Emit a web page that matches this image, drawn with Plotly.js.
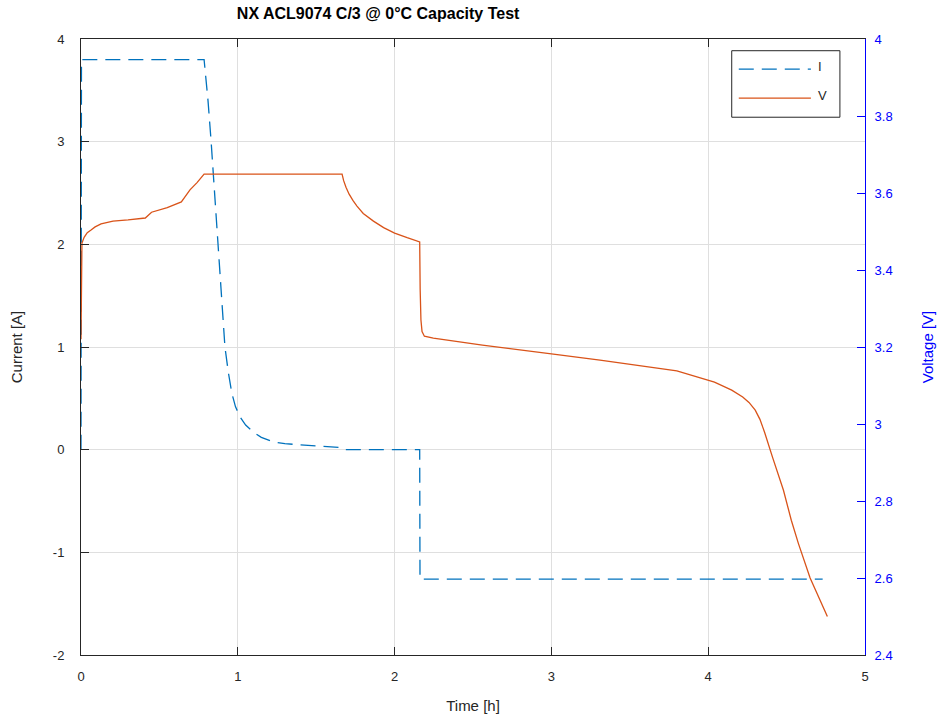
<!DOCTYPE html>
<html>
<head>
<meta charset="utf-8">
<script src="https://cdn.plot.ly/plotly-3.0.1.min.js"></script>
<style>html,body{margin:0;padding:0;background:#fff;}#chart{width:938px;height:719px;}</style>
</head>
<body>
<div id="chart"></div>
<script>
// Current series (time in hours, current in A)
var timeI = [0, 0.003, 0.785, 0.81, 0.83, 0.85, 0.867, 0.89, 0.918, 0.94, 0.962, 0.985, 1.014, 1.05, 1.10, 1.15, 1.225, 1.30, 1.40, 1.52, 1.66, 1.68, 2.16, 2.162, 4.73];
var currentI = [0, 3.8, 3.8, 3.4, 3.0, 2.55, 2.14, 1.55, 1.0, 0.75, 0.55, 0.42, 0.32, 0.24, 0.17, 0.12, 0.076, 0.058, 0.047, 0.035, 0.02, 0.0, 0.0, -1.26, -1.26];

// Voltage series (time in hours, voltage in V)
var timeV = [0, 0.006, 0.02, 0.04, 0.064, 0.09, 0.128, 0.16, 0.204, 0.30, 0.41, 0.45, 0.55, 0.64, 0.67, 0.695, 0.74, 0.785, 1.665, 1.675, 1.69, 1.71, 1.735, 1.76, 1.80, 1.865, 1.93, 2.00, 2.08, 2.16, 2.163, 2.168, 2.175, 2.19, 2.247, 2.56, 3.00, 3.31, 3.80, 4.04, 4.15, 4.22, 4.26, 4.30, 4.33, 4.36, 4.41, 4.48, 4.53, 4.575, 4.65, 4.76];
var voltageV = [3.22, 3.47, 3.485, 3.497, 3.504, 3.512, 3.52, 3.523, 3.527, 3.53, 3.535, 3.55, 3.562, 3.577, 3.593, 3.608, 3.627, 3.649, 3.649, 3.632, 3.615, 3.597, 3.580, 3.566, 3.547, 3.527, 3.510, 3.496, 3.484, 3.473, 3.35, 3.27, 3.240, 3.228, 3.223, 3.205, 3.182, 3.166, 3.138, 3.109, 3.088, 3.07, 3.056, 3.036, 3.012, 2.978, 2.914, 2.828, 2.75, 2.69, 2.60, 2.50];

var xTicks = [0, 1, 2, 3, 4, 5];
var yLeftTicks = [-2, -1, 0, 1, 2, 3, 4];
var yLeftLabels = ['-2', '-1', '0', '1', '2', '3', '4'];
var yRightTicks = [2.4, 2.6, 2.8, 3, 3.2, 3.4, 3.6, 3.8, 4];
var yRightLabels = ['2.4', '2.6', '2.8', '3', '3.2', '3.4', '3.6', '3.8', '4'];

var cI = '#0072BD', cV = '#D95319';
var fam = 'Liberation Sans, Arial, sans-serif';

var traces = [
  {x: timeI, y: currentI, name: 'I', type: 'scatter', mode: 'lines',
   line: {color: cI, width: 1.3, dash: '15px,8px'}, yaxis: 'y'},
  {x: timeV, y: voltageV, name: 'V', type: 'scatter', mode: 'lines',
   line: {color: cV, width: 1.3}, yaxis: 'y2'}
];

var layout = {
  width: 938, height: 719,
  margin: {l: 81, r: 73, t: 39, b: 64},
  paper_bgcolor: '#fff', plot_bgcolor: '#fff',
  font: {family: fam, size: 13, color: '#262626'},
  showlegend: false,
  title: {text: '<b>NX ACL9074 C/3 @ 0°C Capacity Test</b>', font: {family: fam, size: 16, color: '#000'},
          x: 0.379, xref: 'paper', xanchor: 'center', y: 0.982, yref: 'container', yanchor: 'middle'},
  xaxis: {range: [0, 5], tickvals: xTicks, ticks: 'inside', ticklen: 8, tickcolor: '#262626',
          showline: true, linecolor: '#262626', linewidth: 1, mirror: 'ticks',
          showgrid: true, gridcolor: '#dfdfdf', zeroline: false, ticklabelstandoff: 9,
          tickfont: {size: 13, color: '#262626'},
          title: {text: 'Time [h]', standoff: 17, font: {size: 15, color: '#262626'}}},
  yaxis: {range: [-2, 4], tickvals: yLeftTicks, ticktext: yLeftLabels, ticks: 'inside', ticklen: 8, tickcolor: '#262626',
          showline: true, linecolor: '#262626', linewidth: 1, mirror: false,
          showgrid: true, gridcolor: '#dfdfdf', zeroline: false, ticklabelstandoff: 13,
          tickfont: {size: 13, color: '#262626'},
          title: {text: 'Current [A]', standoff: 26, font: {size: 15, color: '#262626'}}},
  yaxis2: {range: [2.4, 4], tickvals: yRightTicks, ticktext: yRightLabels, overlaying: 'y', side: 'right',
           ticks: 'inside', ticklen: 8, tickcolor: '#0000FF', color: '#0000FF',
           showline: true, linecolor: '#0000FF', linewidth: 1,
           showgrid: false, zeroline: false, ticklabelstandoff: 6,
           tickfont: {color: '#0000FF', size: 13},
           title: {text: 'Voltage [V]', standoff: 30, font: {size: 15, color: '#0000FF'}}},
  shapes: [
    {type: 'rect', xref: 'paper', yref: 'paper', x0: 0.830, x1: 0.968, y0: 0.873, y1: 0.981,
     line: {color: '#262626', width: 1}, fillcolor: '#fff'},
    {type: 'line', xref: 'paper', yref: 'paper', x0: 0.839, x1: 0.931, y0: 0.951, y1: 0.951,
     line: {color: cI, width: 1.3, dash: '15px,8px'}},
    {type: 'line', xref: 'paper', yref: 'paper', x0: 0.839, x1: 0.931, y0: 0.904, y1: 0.904,
     line: {color: cV, width: 1.3}}
  ],
  annotations: [
    {xref: 'paper', yref: 'paper', x: 0.938, y: 0.956, text: 'I', showarrow: false, xanchor: 'left', yanchor: 'middle', font: {size: 13, color: '#262626'}},
    {xref: 'paper', yref: 'paper', x: 0.938, y: 0.909, text: 'V', showarrow: false, xanchor: 'left', yanchor: 'middle', font: {size: 13, color: '#262626'}}
  ]
};

Plotly.newPlot('chart', traces, layout, {displayModeBar: false, staticPlot: true});
</script>
</body>
</html>
